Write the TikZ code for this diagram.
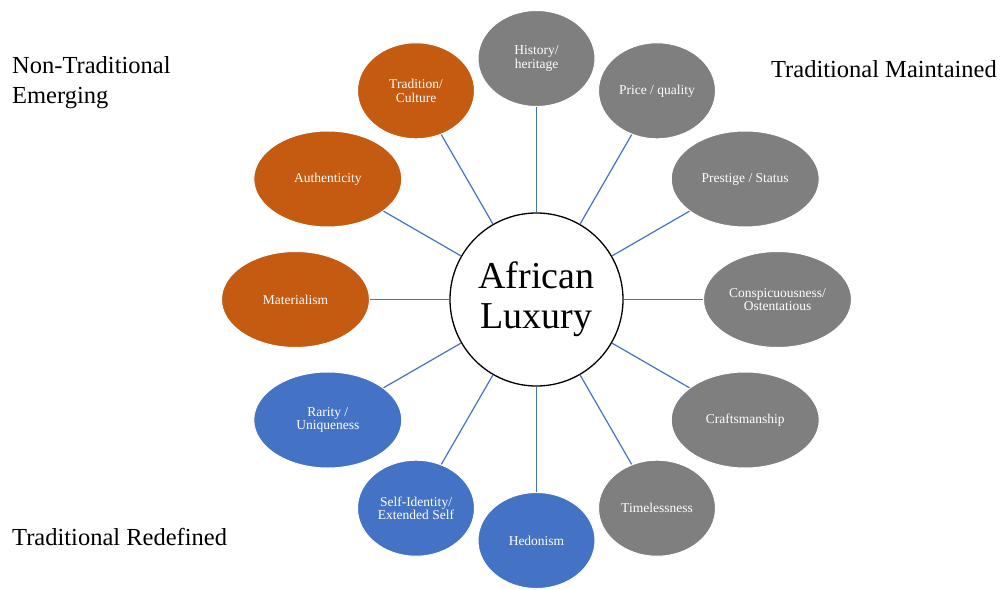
\documentclass[tikz,border=0pt]{standalone}
\usepackage{fontspec}
\setmainfont{Liberation Serif}
\usepackage{xcolor}
\usepackage{tikz}
\usetikzlibrary{shapes.geometric}

\definecolor{rust}{HTML}{C55A11}
\definecolor{slate}{HTML}{7F7F7F}
\definecolor{azure}{HTML}{4472C4}

\begin{document}
\begin{tikzpicture}[x=1pt,y=1pt,
    hub/.style={circle,draw=black,line width=1.3pt,fill=white,minimum size=173pt,inner sep=0pt,
                align=center,font=\fontsize{38}{40}\selectfont},
    attr/.style={ellipse,draw=white,line width=1pt,text=white,minimum height=96pt,inner sep=2pt,
                 align=center,font=\fontsize{13.5}{13.2}\selectfont},
    narrow/.style={attr,minimum width=117pt},
    wide/.style={attr,minimum width=148pt},
    group/.style={align=left,inner sep=0pt,font=\fontsize{24.5}{30}\selectfont},
    link/.style={draw=azure,line width=1.2pt}]
       \path[fill=white,use as bounding box] (-536.5,-289.5) rectangle (463.5,299.5);

       \node[hub] (lux) {African\\Luxury};

       % maintained
       \node[narrow,fill=slate] (hist) at (90:241) {History/\\heritage};
       \node[narrow,fill=slate] (price) at (60:241) {Price / quality};
       \node[wide,fill=slate] (prest) at (30:241) {Prestige / Status};
       \node[wide,fill=slate] (consp) at (0:241) {Conspicuousness/\\Ostentatious};
       \node[wide,fill=slate] (craft) at (-30:241) {Craftsmanship};
       \node[narrow,fill=slate] (time) at (-60:241) {Timelessness};

       % redefined
       \node[narrow,fill=azure] (hedon) at (-90:241) {Hedonism};
       \node[narrow,fill=azure] (self) at (-120:241) {Self-Identity/\\Extended Self};
       \node[wide,fill=azure] (rare) at (-150:241) {Rarity /\\Uniqueness};

       % emerging
       \node[wide,fill=rust] (mat) at (180:241) {Materialism};
       \node[wide,fill=rust] (auth) at (150:241) {Authenticity};
       \node[narrow,fill=rust] (trad) at (120:241) {Tradition/\\Culture};

       \node[group,anchor=west] (emerg) at (-524.5,216.5) {Non-Traditional\\Emerging};
       \node[group,anchor=east] (maint) at (460.5,230.5) {Traditional Maintained};
       \node[group,anchor=west] (redef) at (-524.5,-237.5) {Traditional Redefined};

       \path[link]
       (lux) edge (hist) edge (price) edge (prest) edge (consp)
             edge (craft) edge (time) edge (hedon) edge (self)
             edge (rare) edge (mat) edge (auth) edge (trad);
    \end{tikzpicture}
\end{document}
